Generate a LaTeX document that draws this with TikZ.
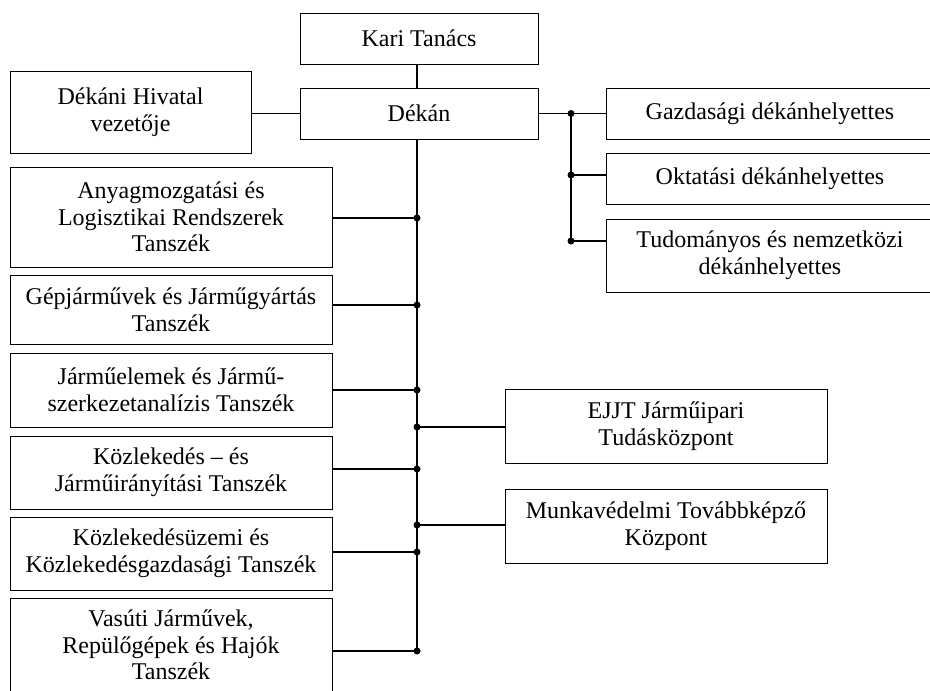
\documentclass[tikz,border=0pt]{standalone}
\usepackage{fontspec}
\setmainfont{Liberation Serif}
\begin{document}
\begin{tikzpicture}[x=1pt,y=-1pt,
  box/.style={draw, line width=0.9pt, align=center, inner sep=0pt,
    font=\fontsize{24}{26.7}\selectfont},
  link/.style={line width=1.1pt},
  jdot/.style={circle, fill=black, inner sep=0pt, minimum size=7pt}]
\useasboundingbox (0,0) rectangle (930,691);
% boxes
\node[box, minimum width=238pt, minimum height=51pt] (kari) at (419,38.5) {Kari Tanács};
\node[box, minimum width=238pt, minimum height=51pt] (dekan) at (419,113.5) {Dékán};
\node[box, minimum width=241pt, minimum height=82pt] (dhiv) at (130.5,112) {Dékáni Hivatal\\vezetője};
\node[box, minimum width=322pt, minimum height=100pt] (anyag) at (171,217) {Anyagmozgatási és\\Logisztikai Rendszerek\\Tanszék};
\node[box, minimum width=322pt, minimum height=69pt] (gep) at (171,309.5) {Gépjárművek és Járműgyártás\\Tanszék};
\node[box, minimum width=322pt, minimum height=74pt] (jelem) at (171,390) {Járműelemek és Jármű-\\szerkezetanalízis Tanszék};
\node[box, minimum width=322pt, minimum height=73pt] (kozl) at (171,472.5) {Közlekedés – és\\Járműirányítási Tanszék};
\node[box, minimum width=322pt, minimum height=73pt] (kozluz) at (171,553.5) {Közlekedésüzemi és\\Közlekedésgazdasági Tanszék};
\node[box, minimum width=322pt, minimum height=94pt] (vasut) at (171,645) {Vasúti Járművek,\\Repülőgépek és Hajók\\Tanszék};
\node[box, minimum width=328pt, minimum height=51pt] (gazd) at (770,113.5) {Gazdasági dékánhelyettes};
\node[box, minimum width=328pt, minimum height=51pt] (okt) at (770,178.5) {Oktatási dékánhelyettes};
\node[box, minimum width=328pt, minimum height=73pt] (tud) at (770,255.5) {Tudományos és nemzetközi\\dékánhelyettes};
\node[box, minimum width=322pt, minimum height=74pt] (ejjt) at (666,426) {EJJT Járműipari\\Tudásközpont};
\node[box, minimum width=322pt, minimum height=74pt] (munka) at (666,526) {Munkavédelmi Továbbképző\\Központ};
% spine and junctions
\coordinate (spine) at (417,0);
\coordinate (jA) at (417,218);
\coordinate (jG) at (417,305);
\coordinate (jJ) at (417,390);
\coordinate (jE) at (417,427);
\coordinate (jK) at (417,469);
\coordinate (jM) at (417,525);
\coordinate (jU) at (417,552);
\coordinate (jV) at (417,651);
\coordinate (r0) at (571,113.5);
\coordinate (r1) at (571,175);
\coordinate (r2) at (571,241);
\draw[link] (kari.south -| spine) -- (dekan.north -| spine);
\draw[link] (dekan.south -| spine) -- (jV);
\draw[link] (dhiv.east |- dekan.west) -- (dekan.west);
\draw[link] (anyag.east |- jA) -- (jA);
\draw[link] (gep.east |- jG) -- (jG);
\draw[link] (jelem.east |- jJ) -- (jJ);
\draw[link] (kozl.east |- jK) -- (jK);
\draw[link] (kozluz.east |- jU) -- (jU);
\draw[link] (vasut.east |- jV) -- (jV);
\draw[link] (jE) -- (jE -| ejjt.west);
\draw[link] (jM) -- (jM -| munka.west);
\draw[link] (dekan.east) -- (gazd.west);
\draw[link] (r0) -- (r2);
\draw[link] (r1) -- (r1 -| okt.west);
\draw[link] (r2) -- (r2 -| tud.west);
\foreach \j in {jA,jG,jJ,jE,jK,jM,jU,jV,r0,r1,r2}
  \node[jdot] at (\j) {};
\end{tikzpicture}
\end{document}
